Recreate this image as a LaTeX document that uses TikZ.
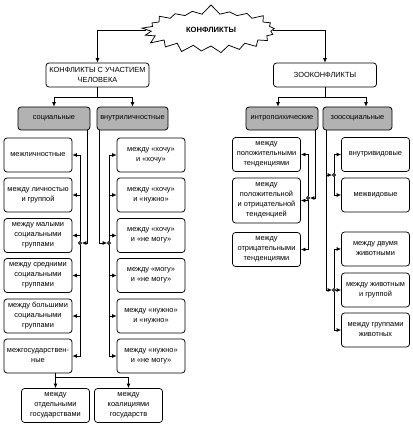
\documentclass[tikz,border=0pt]{standalone}
\usepackage{fontspec}
\setmainfont{Liberation Sans}
\usepackage{tikz}
\usetikzlibrary{shapes.symbols,arrows.meta}

\begin{document}
\begin{tikzpicture}[
	x=1pt, y=-1pt,
	line width=0.75pt,
	>={Latex[length=4.5pt,width=4pt]},
	every node/.style={
		font=\fontsize{7.4}{10}\selectfont,
		align=center,
		inner sep=1pt
	},
	box/.style={
		draw, rounded corners=3pt,
		minimum width=68pt, minimum height=34pt
	},
	head/.style={box, minimum width=103pt, minimum height=24pt},
	kind/.style={box, fill=gray!60, minimum height=23pt},
	dot/.style={circle, draw, fill=white, minimum size=3pt, inner sep=0pt}
]
\useasboundingbox (0,0) rectangle (412,433);

\node[starburst, draw, minimum width=140pt, minimum height=52pt,
	starburst points=21, starburst point height=10pt, random starburst=7,
	font=\bfseries\fontsize{7.6}{10}\selectfont] (konf) at (211,30) {КОНФЛИКТЫ};

\node[head] (chel) at (97.5,75) {КОНФЛИКТЫ С УЧАСТИЕМ\\ЧЕЛОВЕКА};
\node[head] (zoo) at (325,75) {ЗООКОНФЛИКТЫ};

\node[kind, minimum width=72pt] (soc) at (54,118.5) {социальные};
\node[kind, minimum width=71pt] (vnu) at (132.5,118.5) {внутриличностные};
\node[kind, minimum width=72pt] (intr) at (282,118.5) {интропсихические};
\node[kind, minimum width=69pt] (zsoc) at (357.5,118.5) {зоосоциальные};

\node[box] (s1) at (38,155) {межличностные};
\node[box] (s2) at (38,195) {между личностью\\и группой};
\node[box] (s3) at (38,235.5) {между малыми\\социальными\\группами};
\node[box] (s4) at (38,275.5) {между средними\\социальными\\группами};
\node[box] (s5) at (38,316) {между большими\\социальными\\группами};
\node[box] (s6) at (38,356) {межгосударствен-\\ные};

\node[box] (v1) at (151,155) {между «хочу»\\и «хочу»};
\node[box] (v2) at (151,195) {между «хочу»\\и «нужно»};
\node[box] (v3) at (151,235.5) {между «хочу»\\и «не могу»};
\node[box] (v4) at (151,275.5) {между «могу»\\и «не могу»};
\node[box] (v5) at (151,316) {между «нужно»\\и «нужно»};
\node[box] (v6) at (151,356) {между «нужно»\\и «не могу»};

\node[box] (g1) at (55.5,405.5) {между\\отдельными\\государствами};
\node[box] (g2) at (128.5,405.5) {между\\коалициями\\государств};

\node[box] (p1) at (266.5,154.5) {между\\положительными\\тенденциями};
\node[box, minimum height=45pt] (p2) at (266.5,200.5) {между\\положительной\\и отрицательной\\тенденцией};
\node[box] (p3) at (266.5,249.5) {между\\отрицательными\\тенденциями};

\node[box] (z1) at (375.5,154.5) {внутривидовые};
\node[box] (z2) at (375.5,195) {межвидовые};
\node[box] (z3) at (375.5,249) {между двумя\\животными};
\node[box] (z4) at (375.5,290) {между животным\\и группой};
\node[box] (z5) at (375.5,330) {между группами\\животных};

\node[dot] (sj) at (80,243) {};
\node[dot] (vj) at (109,243) {};
\node[dot] (pj) at (308,198) {};
\node[dot] (zj1) at (334,175) {};
\node[dot] (zj2) at (334,290) {};

\draw[->] (konf) -| (chel);
\draw[->] (konf) -| (zoo);
\draw[->] (chel.south) -- ++(0,10) -| (soc);
\draw[->] (chel.south) -- ++(0,10) -| (vnu);
\draw[->] (zoo.south) -- ++(0,10) -| ([xshift=-4pt]intr.north);
\draw[->] (zoo.south) -- ++(0,10) -| ([xshift=8.5pt]zsoc.north);

\draw[->] ([xshift=-3pt]soc.south east) |- (sj);
\draw[->] ([xshift=3pt]vnu.south west) |- (vj);
\draw[->] ([xshift=-3pt]intr.south east) |- (pj);
\draw[->] ([xshift=4pt]zsoc.south west) |- (zj1);
\draw[->] ([xshift=4pt]zsoc.south west) |- (zj2);

\foreach \i in {1,...,6} {
	\draw[->] (sj) |- (s\i);
	\draw[->] (vj) |- (v\i);
}
\foreach \i in {1,2,3} \draw[->] (pj) |- (p\i);
\draw[->] (zj1) |- (z1);
\draw[->] (zj1) |- (z2);
\draw[->] (zj2) |- (z3);
\draw[->] (zj2) -- (z4);
\draw[->] (zj2) |- (z5);

\draw[->] (g1 |- s6.south) -- (g1);
\draw[->] (g1 |- s6.south) -- ++(0,4) -| (g2);
\end{tikzpicture}
\end{document}
